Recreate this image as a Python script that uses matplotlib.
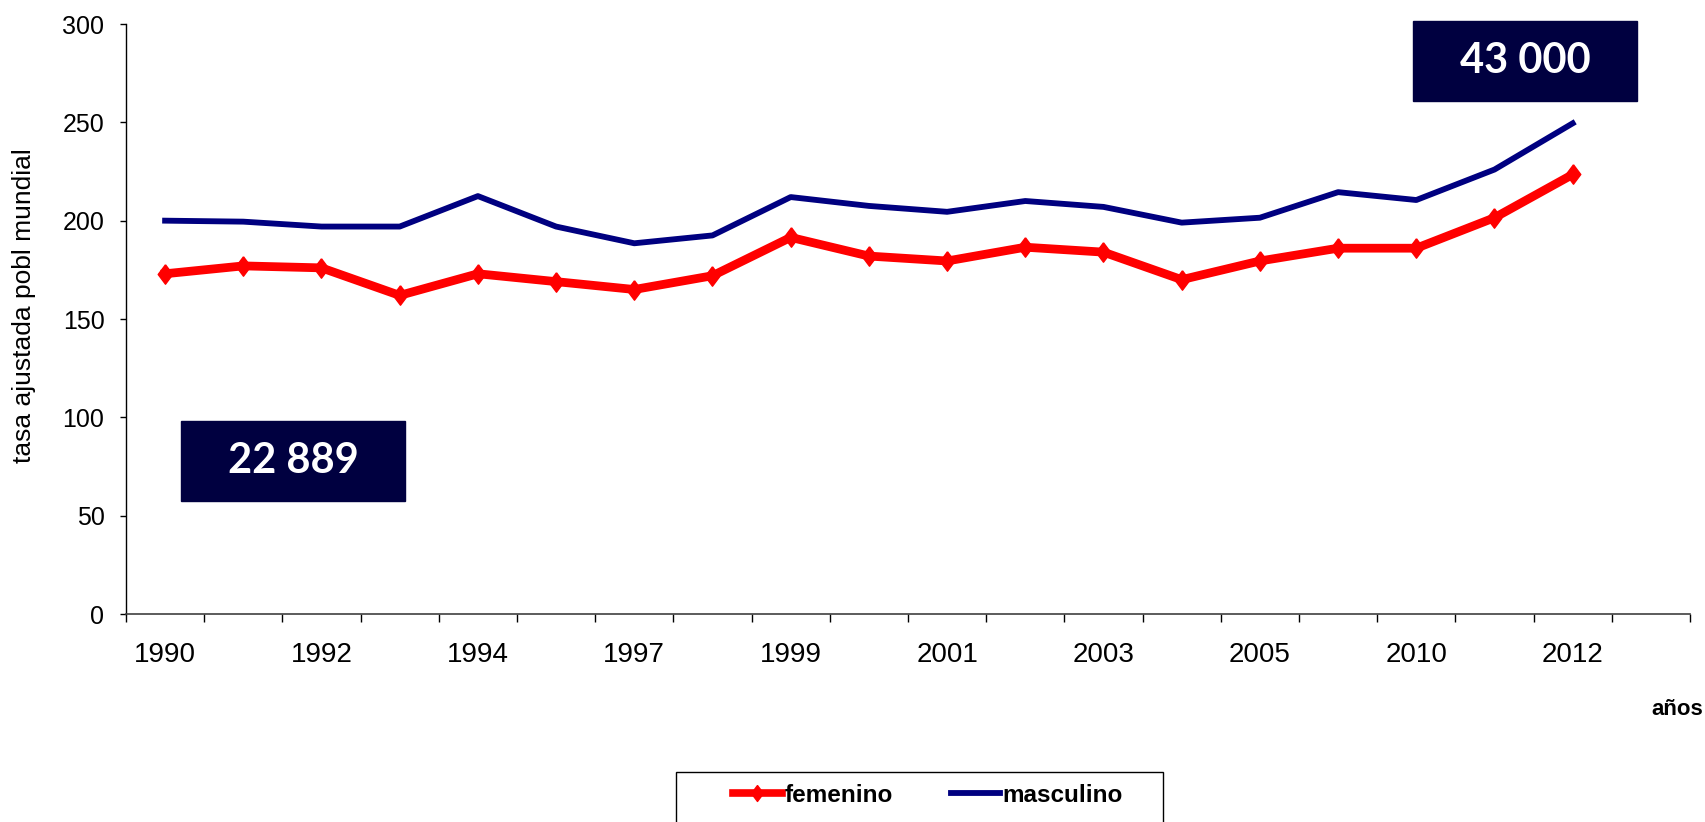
import matplotlib
matplotlib.use("Agg")
import matplotlib.pyplot as plt
from matplotlib.patches import Rectangle
from matplotlib.lines import Line2D
import numpy as np

# categorias del eje x (solo se rotula una de cada dos)
years = ["1990", "1991", "1992", "1993", "1994", "1995", "1997", "1998", "1999", "2000",
         "2001", "2002", "2003", "2004", "2005", "2008", "2010", "2011", "2012", ""]
femenino = [173, 177, 176, 162, 173, 169, 165, 172, 191.5, 182,
            179.5, 186.5, 184, 170, 179.5, 186, 186, 201.5, 223.5]
masculino = [200, 199.5, 197, 197, 212.5, 197, 188.5, 192.5, 212, 207.5,
             204.5, 210, 207, 199, 201.5, 214.5, 210.5, 226, 249.5]
y_ticks = [0, 50, 100, 150, 200, 250, 300]
total_1990 = "22 889"
total_2012 = "43 000"

ROJO = "#ff0000"
AZUL = "#000080"
# rombo un poco mas alto que ancho, como en excel
rombo = [(0, 1), (0.75, 0), (0, -1), (-0.75, 0), (0, 1)]

W, H = 1706, 822
fig = plt.figure(figsize=(W / 100, H / 100), dpi=100)
ax = fig.add_axes([126 / W, 1 - 614 / H, 1564 / W, 590 / H])

x = np.arange(len(femenino))
ax.plot(x, femenino, color=ROJO, lw=6.3, marker=rombo, ms=14, label="femenino", zorder=3)
ax.plot(x, masculino, color=AZUL, lw=4.2, label="masculino", zorder=3)

ax.set_xlim(-0.5, len(years) - 0.5)
ax.set_ylim(0, 300)

ax.set_yticks(y_ticks)
ax.set_yticklabels([str(v) for v in y_ticks], family="Liberation Sans", size=18)

# ticks en los limites de categoria, rotulos en el centro
ax.set_xticks(np.arange(len(years) + 1) - 0.5)
ax.set_xticklabels([])
ax.set_xticks(np.arange(0, len(years), 2), minor=True)
ax.set_xticklabels(years[::2], minor=True, family="Liberation Sans", size=20)
ax.tick_params(axis="x", which="major", length=6, width=1, direction="out")
ax.tick_params(axis="x", which="minor", length=0, pad=20)
ax.tick_params(axis="y", length=4.5, width=1, pad=11)

for s in ["top", "right"]:
    ax.spines[s].set_visible(False)
ax.spines["left"].set_linewidth(1)
ax.spines["bottom"].set_linewidth(1.2)
ax.spines["bottom"].set_color("#404040")

fig.text(24 / W, 1 - 306 / H, "tasa ajustada pobl mundial", rotation=90,
         ha="center", va="center", fontsize=19, family="Liberation Sans")
fig.text(1703 / W, 1 - 709 / H, "años", ha="right", va="center",
         fontsize=16, fontweight="bold", family="Liberation Sans")

# recuadros con los totales
navy = "#000040"
for (x0, x1, y0, y1), txt in [((181, 405, 421, 501), total_1990),
                               ((1413, 1637, 21, 101), total_2012)]:
    fig.add_artist(Rectangle((x0 / W, 1 - y1 / H), (x1 - x0) / W, (y1 - y0) / H,
                             transform=fig.transFigure, color=navy, zorder=5))
    fig.text((x0 + x1) / 2 / W, 1 - (y0 + y1) / 2 / H, txt, color="white",
             ha="center", va="center", fontsize=30, fontweight="bold",
             family="Lato", zorder=6)

# leyenda (el marco queda cortado por el borde inferior)
fig.add_artist(Rectangle((676 / W, -0.05), 487 / W, 0.05 + 1 - 772 / H,
                         transform=fig.transFigure, fill=False, ec="black", lw=1))
handles = [Line2D([], [], color=ROJO, lw=5.5, marker=rombo, ms=11.5),
           Line2D([], [], color=AZUL, lw=4.2)]
fig.legend(handles, ["femenino", "masculino"], loc="upper left",
           bbox_to_anchor=(733 / W, 1 - 784 / H), bbox_transform=fig.transFigure,
           ncol=2, frameon=False, borderpad=0, borderaxespad=0,
           handlelength=2.0, handletextpad=0.12, columnspacing=2.4,
           prop={"family": "Liberation Sans", "weight": "bold", "size": 17.5})

fig.savefig("out.png", dpi=100)
